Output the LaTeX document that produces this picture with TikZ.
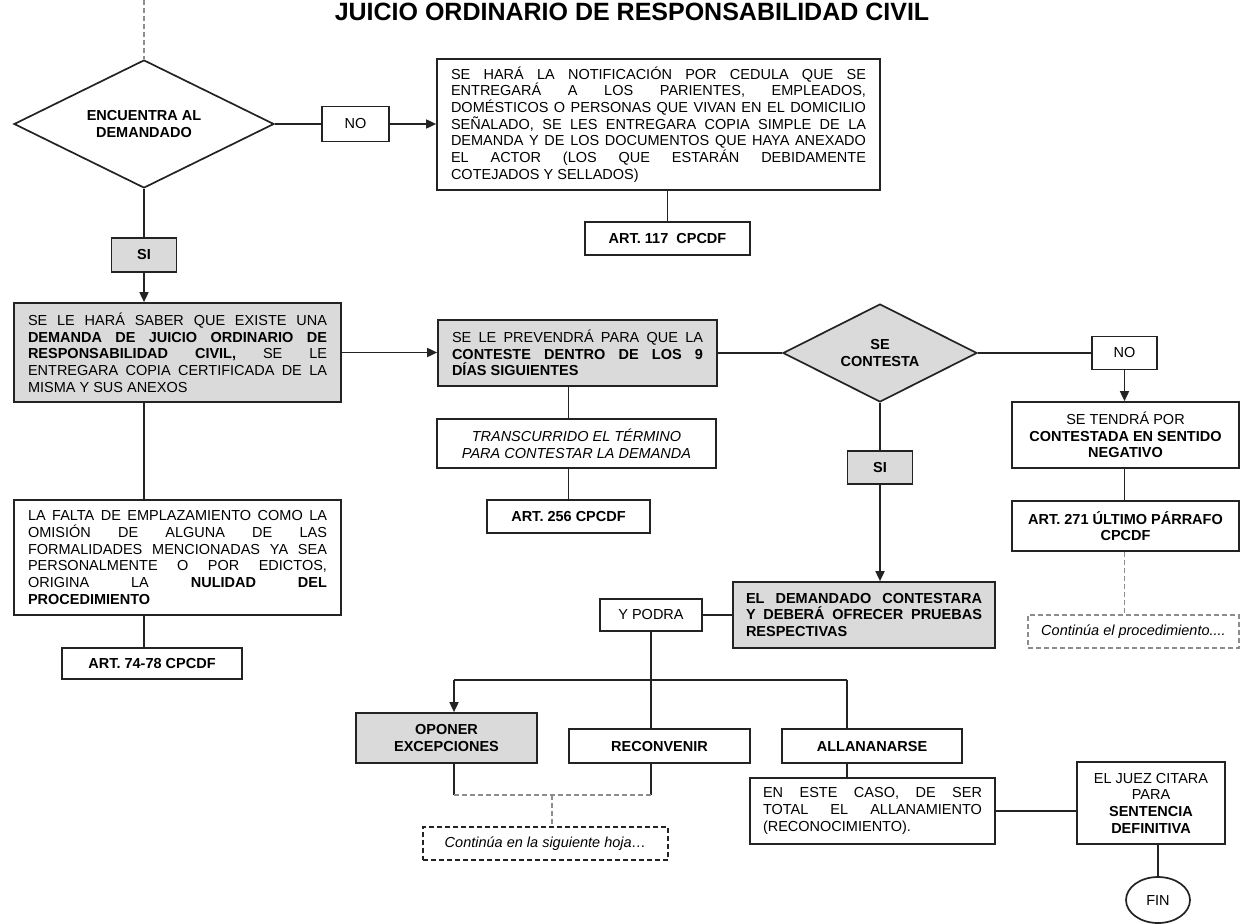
\documentclass[tikz,border=0pt]{standalone}
\usepackage{fontspec}
\setmainfont{Liberation Sans}
\usetikzlibrary{shapes.geometric,arrows.meta}
\definecolor{boxgray}{RGB}{218,218,218}
\definecolor{linec}{RGB}{35,35,35}
\definecolor{dashc}{RGB}{140,140,140}
\newcommand\fs{\fontsize{14.5pt}{16.7pt}\selectfont}
\tolerance=10000
\hbadness=10000
\hyphenpenalty=10000
\exhyphenpenalty=10000
\begin{document}
\begin{tikzpicture}[x=1pt,y=-1pt,
  bx/.style={draw=linec, line width=1.7pt, inner ysep=0pt, inner xsep=2pt, font=\fs, align=center},
  gbx/.style={bx, fill=boxgray},
  dia/.style={diamond, shape aspect=2, draw=linec, line width=1.7pt, inner sep=0pt, font=\fs\bfseries, align=center},
  conn/.style={draw=linec, line width=1.7pt},
  arr/.style={conn, -{Triangle[length=10pt,width=9pt]}},
  dconn/.style={draw=dashc, line width=1.2pt, dash pattern=on 5pt off 3pt},
  dbx/.style={draw=dashc, line width=1.2pt, dash pattern=on 5pt off 3pt, font=\fs\itshape, inner sep=0pt},
  dbxk/.style={draw=linec, line width=1.3pt, dash pattern=on 5pt off 3pt, font=\fs\itshape, inner sep=0pt}
]
\useasboundingbox (0,0) rectangle (1241,923);

% title
\node[anchor=base, font=\fontsize{25pt}{28pt}\selectfont\bfseries] (title) at (632,21) {JUICIO ORDINARIO DE RESPONSABILIDAD CIVIL};

% left column
\coordinate (top) at (144,0);
\node[dia, minimum width=260pt, minimum height=128pt] (d1) at (144,124) {ENCUENTRA AL\\DEMANDADO};
\node[bx, minimum width=67pt, minimum height=35pt] (no1) at (355.5,124) {NO};
\node[bx, minimum height=131pt, text width=415pt, inner xsep=14pt, align=justify] (notif) at (658.5,124.5) {SE HARÁ LA NOTIFICACIÓN POR CEDULA QUE SE\linebreak ENTREGARÁ A LOS PARIENTES, EMPLEADOS,\linebreak DOMÉSTICOS O PERSONAS QUE VIVAN EN EL DOMICILIO\linebreak SEÑALADO, SE LES ENTREGARA COPIA SIMPLE DE LA\linebreak DEMANDA Y DE LOS DOCUMENTOS QUE HAYA ANEXADO\linebreak EL ACTOR (LOS QUE ESTARÁN DEBIDAMENTE\linebreak COTEJADOS Y SELLADOS)};
\node[bx, font=\fs\bfseries, minimum width=165pt, minimum height=33pt] (art117) at (667.5,238.5) {ART. 117 \ CPCDF};

\node[gbx, font=\fs\bfseries, minimum width=65pt, minimum height=34pt] (si1) at (144,255) {SI};
\node[gbx, minimum height=99pt, text width=299pt, inner xsep=14pt, align=justify] (gray1) at (177.5,352.5) {SE LE HARÁ SABER QUE EXISTE UNA\linebreak \textbf{DEMANDA DE JUICIO ORDINARIO DE}\linebreak \textbf{RESPONSABILIDAD CIVIL,} SE LE\linebreak ENTREGARA COPIA CERTIFICADA DE LA\linebreak MISMA Y SUS ANEXOS};
\node[bx, minimum height=115pt, text width=299pt, inner xsep=14pt, align=justify] (falta) at (177.5,557.5) {LA FALTA DE EMPLAZAMIENTO COMO LA\linebreak OMISIÓN DE ALGUNA DE LAS\linebreak FORMALIDADES MENCIONADAS YA SEA\linebreak PERSONALMENTE O POR EDICTOS,\linebreak ORIGINA LA \textbf{NULIDAD DEL}\linebreak \textbf{PROCEDIMIENTO}};
\node[bx, font=\fs\bfseries, minimum width=180pt, minimum height=31pt] (art74) at (152,663.5) {ART. 74-78 CPCDF};

% middle column
\node[gbx, minimum height=66pt, text width=251pt, inner xsep=14pt, align=justify] (prev) at (577.5,353) {SE LE PREVENDRÁ PARA QUE LA\linebreak \textbf{CONTESTE DENTRO DE LOS 9}\linebreak \textbf{DÍAS SIGUIENTES}};
\node[bx, font=\fs\itshape, minimum width=279pt, minimum height=49pt] (trans) at (576.5,443.5) {TRANSCURRIDO EL TÉRMINO\\PARA CONTESTAR LA DEMANDA};
\node[bx, font=\fs\bfseries, minimum width=163pt, minimum height=33pt] (art256) at (568.5,516.5) {ART. 256 CPCDF};

\node[dia, fill=boxgray, minimum width=194pt, minimum height=98pt] (d2) at (880,353) {SE\\CONTESTA};
\node[gbx, font=\fs\bfseries, minimum width=65pt, minimum height=33pt] (si2) at (880,467.5) {SI};
\node[gbx, font=\fs\bfseries, minimum height=66pt, text width=236pt, inner xsep=13pt, align=justify] (dem) at (864,615) {EL DEMANDADO CONTESTARA\linebreak Y DEBERÁ OFRECER PRUEBAS\linebreak RESPECTIVAS};
\node[bx, minimum width=102pt, minimum height=32pt] (ypodra) at (651,615) {Y PODRA};

% right column
\node[bx, minimum width=65pt, minimum height=33pt] (no2) at (1124.5,353) {NO};
\node[bx, minimum width=227pt, minimum height=66pt] (tendra) at (1125.5,435) {SE TENDRÁ POR\\\textbf{CONTESTADA EN SENTIDO}\\\textbf{NEGATIVO}};
\node[bx, font=\fs\bfseries, minimum width=227pt, minimum height=50pt] (art271) at (1125.5,526) {ART. 271 ÚLTIMO PÁRRAFO\\CPCDF};
\node[dbx, minimum width=211pt, minimum height=33pt] (cont1) at (1133.5,631.5) {Continúa el procedimiento....};

% bottom row
\node[gbx, font=\fs\bfseries, minimum width=181pt, minimum height=50pt] (oponer) at (446.5,738) {OPONER\\EXCEPCIONES};
\node[bx, font=\fs\bfseries, minimum width=181pt, minimum height=34pt] (recon) at (659.5,746) {RECONVENIR};
\node[bx, font=\fs\bfseries, minimum width=180pt, minimum height=34pt] (allan) at (872,746) {ALLANANARSE};
\node[bx, minimum height=66pt, text width=219pt, inner xsep=13pt, align=justify] (caso) at (872.5,811) {EN ESTE CASO, DE SER\linebreak TOTAL EL ALLANAMIENTO\linebreak (RECONOCIMIENTO).};
\node[bx, minimum width=148pt, minimum height=82pt] (juez) at (1151,803) {EL JUEZ CITARA\\PARA\\\textbf{SENTENCIA}\\\textbf{DEFINITIVA}};
\node[ellipse, draw=linec, line width=1.7pt, font=\fs, minimum width=64pt, minimum height=46pt, inner sep=0pt] (fin) at (1158,900) {FIN};
\node[dbxk, minimum width=245pt, minimum height=33pt] (cont2) at (545.5,843.5) {Continúa en la siguiente hoja…};

% connectors
\draw[dconn] (top) -- (d1.north);
\draw[conn] (d1.east) -- (d1.east -| no1.west);
\draw[arr] (no1.east) -- (no1.east -| notif.west);
\draw[conn] (art117.north |- notif.south) -- (art117.north);
\draw[conn] (d1.south) -- (si1.north);
\draw[arr] (si1.south) -- (si1.south |- gray1.north);
\draw[conn] (si1 |- gray1.south) -- (si1 |- falta.north);
\draw[conn] (si1 |- falta.south) -- (si1 |- art74.north);
\draw[arr] (gray1.east) -- (gray1.east -| prev.west);
\draw[conn] (art256 |- prev.south) -- (art256 |- trans.north);
\draw[conn] (art256 |- trans.south) -- (art256.north);
\draw[conn] (prev.east) -- (d2.west);
\draw[conn] (d2.east) -- (no2.west);
\draw[arr] (no2.south) -- (no2.south |- tendra.north);
\draw[conn] (no2.south |- tendra.south) -- (no2.south |- art271.north);
\draw[dconn] (no2.south |- art271.south) -- (no2.south |- cont1.north);
\draw[conn] (d2.south) -- (si2.north);
\draw[arr] (si2.south) -- (si2.south |- dem.north);
\draw[conn] (dem.west) -- (ypodra.east);
\coordinate (hl) at (454,680);
\coordinate (hr) at (847,680);
\draw[conn] (ypodra.south) -- (ypodra.south |- recon.north);
\draw[conn] (hr) -- (hl);
\draw[arr] (hl) -- (hl |- oponer.north);
\draw[conn] (hr) -- (hr |- allan.north);
\coordinate (bl) at (454,795);
\coordinate (br) at (651,795);
\coordinate (bm) at (552,795);
\draw[conn] (hl |- oponer.south) -- (bl);
\draw[conn] (br |- recon.south) -- (br);
\draw[dconn] (bl) -- (br);
\draw[dconn] (bm) -- (bm |- cont2.north);
\draw[conn] (hr |- allan.south) -- (hr |- caso.north);
\draw[conn] (caso.east) -- (caso.east -| juez.west);
\draw[conn] (fin.north |- juez.south) -- (fin.north);
\end{tikzpicture}
\end{document}
